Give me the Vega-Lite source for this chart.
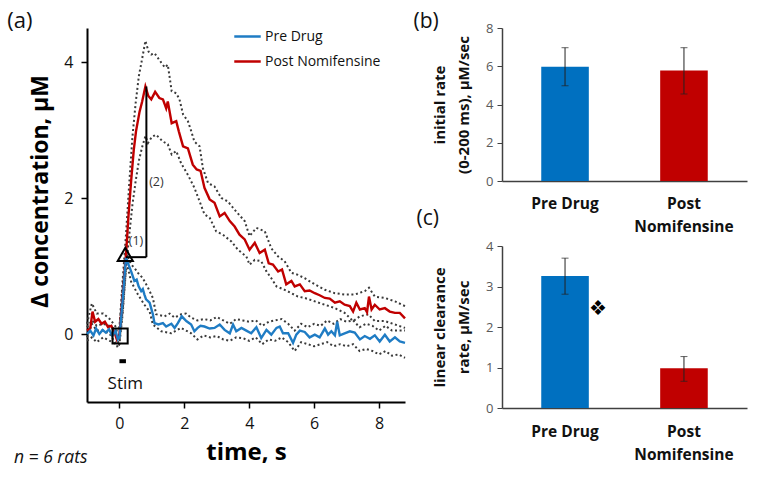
{
"$schema": "https://vega.github.io/schema/vega-lite/v6.json",
"background": "white",
"padding": {"left": 7, "top": 10, "right": 5, "bottom": 5},
"config": {"view": {"stroke": null}, "font": "Open Sans", "axis": {"grid": false}},
"bounds": "flush",
"spacing": 97,
"resolve": {"scale": {"color": "independent"}, "legend": {"color": "independent"}},
"datasets": {
"main": [
{"t":-1,"v":0.05,"s":"Post Nomifensine"},{"t":-0.9,"v":0.08,"s":"Post Nomifensine"},{"t":-0.83,"v":0.33,"s":"Post Nomifensine"},{"t":-0.75,"v":0.18,"s":"Post Nomifensine"},{"t":-0.65,"v":0.22,"s":"Post Nomifensine"},{"t":-0.55,"v":0.15,"s":"Post Nomifensine"},{"t":-0.45,"v":0.18,"s":"Post Nomifensine"},{"t":-0.35,"v":0.1,"s":"Post Nomifensine"},{"t":-0.25,"v":0.12,"s":"Post Nomifensine"},{"t":-0.15,"v":0.02,"s":"Post Nomifensine"},{"t":-0.08,"v":-0.08,"s":"Post Nomifensine"},{"t":0,"v":0,"s":"Post Nomifensine"},{"t":0.1,"v":0.55,"s":"Post Nomifensine"},{"t":0.2,"v":1.15,"s":"Post Nomifensine"},{"t":0.28,"v":1.75,"s":"Post Nomifensine"},{"t":0.36,"v":2.25,"s":"Post Nomifensine"},{"t":0.44,"v":2.7,"s":"Post Nomifensine"},{"t":0.51,"v":2.98,"s":"Post Nomifensine"},{"t":0.62,"v":3.27,"s":"Post Nomifensine"},{"t":0.7,"v":3.42,"s":"Post Nomifensine"},{"t":0.8,"v":3.64,"s":"Post Nomifensine"},{"t":0.89,"v":3.5,"s":"Post Nomifensine"},{"t":0.98,"v":3.45,"s":"Post Nomifensine"},{"t":1.1,"v":3.56,"s":"Post Nomifensine"},{"t":1.23,"v":3.47,"s":"Post Nomifensine"},{"t":1.34,"v":3.45,"s":"Post Nomifensine"},{"t":1.44,"v":3.32,"s":"Post Nomifensine"},{"t":1.49,"v":3.42,"s":"Post Nomifensine"},{"t":1.61,"v":3.1,"s":"Post Nomifensine"},{"t":1.75,"v":3.13,"s":"Post Nomifensine"},{"t":1.83,"v":2.98,"s":"Post Nomifensine"},{"t":1.96,"v":2.76,"s":"Post Nomifensine"},{"t":2.11,"v":2.73,"s":"Post Nomifensine"},{"t":2.26,"v":2.49,"s":"Post Nomifensine"},{"t":2.38,"v":2.42,"s":"Post Nomifensine"},{"t":2.5,"v":2.4,"s":"Post Nomifensine"},{"t":2.62,"v":2.15,"s":"Post Nomifensine"},{"t":2.78,"v":1.98,"s":"Post Nomifensine"},{"t":2.93,"v":1.93,"s":"Post Nomifensine"},{"t":3.09,"v":1.73,"s":"Post Nomifensine"},{"t":3.24,"v":1.78,"s":"Post Nomifensine"},{"t":3.4,"v":1.66,"s":"Post Nomifensine"},{"t":3.55,"v":1.58,"s":"Post Nomifensine"},{"t":3.7,"v":1.46,"s":"Post Nomifensine"},{"t":3.86,"v":1.39,"s":"Post Nomifensine"},{"t":4.01,"v":1.24,"s":"Post Nomifensine"},{"t":4.17,"v":1.34,"s":"Post Nomifensine"},{"t":4.32,"v":1.19,"s":"Post Nomifensine"},{"t":4.48,"v":1.24,"s":"Post Nomifensine"},{"t":4.6,"v":1.04,"s":"Post Nomifensine"},{"t":4.73,"v":1.02,"s":"Post Nomifensine"},{"t":4.89,"v":0.92,"s":"Post Nomifensine"},{"t":5.01,"v":0.95,"s":"Post Nomifensine"},{"t":5.14,"v":0.73,"s":"Post Nomifensine"},{"t":5.3,"v":0.78,"s":"Post Nomifensine"},{"t":5.4,"v":0.7,"s":"Post Nomifensine"},{"t":5.56,"v":0.73,"s":"Post Nomifensine"},{"t":5.71,"v":0.63,"s":"Post Nomifensine"},{"t":5.86,"v":0.64,"s":"Post Nomifensine"},{"t":6.02,"v":0.6,"s":"Post Nomifensine"},{"t":6.17,"v":0.57,"s":"Post Nomifensine"},{"t":6.33,"v":0.53,"s":"Post Nomifensine"},{"t":6.48,"v":0.52,"s":"Post Nomifensine"},{"t":6.64,"v":0.46,"s":"Post Nomifensine"},{"t":6.79,"v":0.48,"s":"Post Nomifensine"},{"t":6.94,"v":0.43,"s":"Post Nomifensine"},{"t":7.1,"v":0.41,"s":"Post Nomifensine"},{"t":7.2,"v":0.33,"s":"Post Nomifensine"},{"t":7.3,"v":0.46,"s":"Post Nomifensine"},{"t":7.41,"v":0.36,"s":"Post Nomifensine"},{"t":7.56,"v":0.38,"s":"Post Nomifensine"},{"t":7.63,"v":0.32,"s":"Post Nomifensine"},{"t":7.69,"v":0.55,"s":"Post Nomifensine"},{"t":7.77,"v":0.36,"s":"Post Nomifensine"},{"t":7.87,"v":0.43,"s":"Post Nomifensine"},{"t":8.02,"v":0.36,"s":"Post Nomifensine"},{"t":8.18,"v":0.38,"s":"Post Nomifensine"},{"t":8.33,"v":0.33,"s":"Post Nomifensine"},{"t":8.49,"v":0.31,"s":"Post Nomifensine"},{"t":8.64,"v":0.31,"s":"Post Nomifensine"},{"t":8.8,"v":0.23,"s":"Post Nomifensine"},
{"t":-1,"v":0,"s":"Pre Drug"},{"t":-0.9,"v":0.05,"s":"Pre Drug"},{"t":-0.8,"v":-0.02,"s":"Pre Drug"},{"t":-0.72,"v":0.08,"s":"Pre Drug"},{"t":-0.62,"v":0,"s":"Pre Drug"},{"t":-0.52,"v":0.06,"s":"Pre Drug"},{"t":-0.42,"v":0.02,"s":"Pre Drug"},{"t":-0.32,"v":0.07,"s":"Pre Drug"},{"t":-0.22,"v":-0.03,"s":"Pre Drug"},{"t":-0.12,"v":0.05,"s":"Pre Drug"},{"t":-0.05,"v":-0.08,"s":"Pre Drug"},{"t":0,"v":-0.05,"s":"Pre Drug"},{"t":0.1,"v":0.5,"s":"Pre Drug"},{"t":0.2,"v":1.12,"s":"Pre Drug"},{"t":0.28,"v":1.02,"s":"Pre Drug"},{"t":0.36,"v":0.92,"s":"Pre Drug"},{"t":0.46,"v":0.78,"s":"Pre Drug"},{"t":0.53,"v":0.8,"s":"Pre Drug"},{"t":0.59,"v":0.7,"s":"Pre Drug"},{"t":0.67,"v":0.63,"s":"Pre Drug"},{"t":0.72,"v":0.66,"s":"Pre Drug"},{"t":0.77,"v":0.58,"s":"Pre Drug"},{"t":0.82,"v":0.51,"s":"Pre Drug"},{"t":0.93,"v":0.46,"s":"Pre Drug"},{"t":1.03,"v":0.29,"s":"Pre Drug"},{"t":1.08,"v":0.16,"s":"Pre Drug"},{"t":1.2,"v":0.14,"s":"Pre Drug"},{"t":1.34,"v":0.16,"s":"Pre Drug"},{"t":1.44,"v":0.11,"s":"Pre Drug"},{"t":1.6,"v":0.15,"s":"Pre Drug"},{"t":1.7,"v":0.09,"s":"Pre Drug"},{"t":1.8,"v":0.16,"s":"Pre Drug"},{"t":1.92,"v":0.26,"s":"Pre Drug"},{"t":2.06,"v":0.19,"s":"Pre Drug"},{"t":2.21,"v":0.14,"s":"Pre Drug"},{"t":2.31,"v":0.04,"s":"Pre Drug"},{"t":2.41,"v":0.09,"s":"Pre Drug"},{"t":2.5,"v":0.12,"s":"Pre Drug"},{"t":2.62,"v":0.11,"s":"Pre Drug"},{"t":2.78,"v":0.08,"s":"Pre Drug"},{"t":2.93,"v":0.09,"s":"Pre Drug"},{"t":3.09,"v":0.14,"s":"Pre Drug"},{"t":3.24,"v":0.06,"s":"Pre Drug"},{"t":3.4,"v":0.01,"s":"Pre Drug"},{"t":3.5,"v":0.14,"s":"Pre Drug"},{"t":3.6,"v":0.04,"s":"Pre Drug"},{"t":3.76,"v":0.09,"s":"Pre Drug"},{"t":3.91,"v":0.05,"s":"Pre Drug"},{"t":4.06,"v":0.01,"s":"Pre Drug"},{"t":4.22,"v":0.1,"s":"Pre Drug"},{"t":4.37,"v":-0.06,"s":"Pre Drug"},{"t":4.53,"v":0.06,"s":"Pre Drug"},{"t":4.68,"v":-0.01,"s":"Pre Drug"},{"t":4.84,"v":0.09,"s":"Pre Drug"},{"t":4.94,"v":0.11,"s":"Pre Drug"},{"t":5.04,"v":0.01,"s":"Pre Drug"},{"t":5.2,"v":0.01,"s":"Pre Drug"},{"t":5.35,"v":-0.13,"s":"Pre Drug"},{"t":5.45,"v":-0.01,"s":"Pre Drug"},{"t":5.56,"v":0.05,"s":"Pre Drug"},{"t":5.71,"v":0.03,"s":"Pre Drug"},{"t":5.86,"v":-0.05,"s":"Pre Drug"},{"t":6.02,"v":-0.01,"s":"Pre Drug"},{"t":6.17,"v":-0.05,"s":"Pre Drug"},{"t":6.33,"v":0.08,"s":"Pre Drug"},{"t":6.43,"v":-0.01,"s":"Pre Drug"},{"t":6.53,"v":0.04,"s":"Pre Drug"},{"t":6.64,"v":-0.02,"s":"Pre Drug"},{"t":6.71,"v":0.18,"s":"Pre Drug"},{"t":6.79,"v":-0.02,"s":"Pre Drug"},{"t":6.94,"v":0.01,"s":"Pre Drug"},{"t":7.1,"v":0.04,"s":"Pre Drug"},{"t":7.25,"v":0.02,"s":"Pre Drug"},{"t":7.41,"v":-0.08,"s":"Pre Drug"},{"t":7.56,"v":-0.03,"s":"Pre Drug"},{"t":7.72,"v":-0.07,"s":"Pre Drug"},{"t":7.87,"v":-0.02,"s":"Pre Drug"},{"t":8.02,"v":-0.11,"s":"Pre Drug"},{"t":8.18,"v":-0.01,"s":"Pre Drug"},{"t":8.33,"v":-0.11,"s":"Pre Drug"},{"t":8.49,"v":-0.05,"s":"Pre Drug"},{"t":8.64,"v":-0.11,"s":"Pre Drug"},{"t":8.8,"v":-0.13,"s":"Pre Drug"}
],
"bands": [
{"t":-1,"v":0.15,"b":"post_hi"},{"t":-0.85,"v":0.45,"b":"post_hi"},{"t":-0.7,"v":0.3,"b":"post_hi"},{"t":-0.5,"v":0.3,"b":"post_hi"},{"t":-0.3,"v":0.22,"b":"post_hi"},{"t":-0.1,"v":0.1,"b":"post_hi"},{"t":0,"v":0.1,"b":"post_hi"},{"t":0.1,"v":0.8,"b":"post_hi"},{"t":0.2,"v":1.45,"b":"post_hi"},{"t":0.3,"v":2.2,"b":"post_hi"},{"t":0.4,"v":2.9,"b":"post_hi"},{"t":0.5,"v":3.4,"b":"post_hi"},{"t":0.6,"v":3.8,"b":"post_hi"},{"t":0.7,"v":4.05,"b":"post_hi"},{"t":0.8,"v":4.31,"b":"post_hi"},{"t":0.9,"v":4.15,"b":"post_hi"},{"t":0.98,"v":4.11,"b":"post_hi"},{"t":1.08,"v":4.13,"b":"post_hi"},{"t":1.2,"v":4.05,"b":"post_hi"},{"t":1.29,"v":3.99,"b":"post_hi"},{"t":1.4,"v":3.92,"b":"post_hi"},{"t":1.49,"v":3.96,"b":"post_hi"},{"t":1.61,"v":3.57,"b":"post_hi"},{"t":1.75,"v":3.54,"b":"post_hi"},{"t":1.85,"v":3.45,"b":"post_hi"},{"t":1.96,"v":3.23,"b":"post_hi"},{"t":2.11,"v":3.13,"b":"post_hi"},{"t":2.2,"v":3.0,"b":"post_hi"},{"t":2.31,"v":2.83,"b":"post_hi"},{"t":2.47,"v":2.76,"b":"post_hi"},{"t":2.57,"v":2.44,"b":"post_hi"},{"t":2.73,"v":2.22,"b":"post_hi"},{"t":2.93,"v":2.17,"b":"post_hi"},{"t":3.14,"v":2.0,"b":"post_hi"},{"t":3.34,"v":1.95,"b":"post_hi"},{"t":3.6,"v":1.8,"b":"post_hi"},{"t":3.86,"v":1.66,"b":"post_hi"},{"t":4.01,"v":1.44,"b":"post_hi"},{"t":4.22,"v":1.56,"b":"post_hi"},{"t":4.48,"v":1.51,"b":"post_hi"},{"t":4.68,"v":1.26,"b":"post_hi"},{"t":4.89,"v":1.14,"b":"post_hi"},{"t":5.09,"v":1.07,"b":"post_hi"},{"t":5.3,"v":0.9,"b":"post_hi"},{"t":5.5,"v":0.87,"b":"post_hi"},{"t":5.71,"v":0.82,"b":"post_hi"},{"t":6.02,"v":0.73,"b":"post_hi"},{"t":6.33,"v":0.65,"b":"post_hi"},{"t":6.64,"v":0.6,"b":"post_hi"},{"t":6.94,"v":0.58,"b":"post_hi"},{"t":7.25,"v":0.58,"b":"post_hi"},{"t":7.56,"v":0.63,"b":"post_hi"},{"t":7.69,"v":0.68,"b":"post_hi"},{"t":7.87,"v":0.55,"b":"post_hi"},{"t":8.18,"v":0.53,"b":"post_hi"},{"t":8.49,"v":0.48,"b":"post_hi"},{"t":8.8,"v":0.41,"b":"post_hi"},
{"t":-1,"v":-0.05,"b":"post_lo"},{"t":-0.85,"v":0.15,"b":"post_lo"},{"t":-0.7,"v":0.05,"b":"post_lo"},{"t":-0.5,"v":0.05,"b":"post_lo"},{"t":-0.3,"v":0,"b":"post_lo"},{"t":-0.1,"v":-0.15,"b":"post_lo"},{"t":0,"v":-0.1,"b":"post_lo"},{"t":0.1,"v":0.35,"b":"post_lo"},{"t":0.2,"v":0.95,"b":"post_lo"},{"t":0.3,"v":1.45,"b":"post_lo"},{"t":0.4,"v":1.9,"b":"post_lo"},{"t":0.5,"v":2.25,"b":"post_lo"},{"t":0.6,"v":2.55,"b":"post_lo"},{"t":0.7,"v":2.75,"b":"post_lo"},{"t":0.8,"v":2.91,"b":"post_lo"},{"t":0.88,"v":2.81,"b":"post_lo"},{"t":1,"v":2.9,"b":"post_lo"},{"t":1.13,"v":2.93,"b":"post_lo"},{"t":1.34,"v":2.83,"b":"post_lo"},{"t":1.49,"v":2.79,"b":"post_lo"},{"t":1.61,"v":2.64,"b":"post_lo"},{"t":1.75,"v":2.69,"b":"post_lo"},{"t":1.9,"v":2.51,"b":"post_lo"},{"t":2.11,"v":2.34,"b":"post_lo"},{"t":2.31,"v":2.15,"b":"post_lo"},{"t":2.47,"v":1.95,"b":"post_lo"},{"t":2.62,"v":1.76,"b":"post_lo"},{"t":2.78,"v":1.71,"b":"post_lo"},{"t":2.98,"v":1.51,"b":"post_lo"},{"t":3.19,"v":1.46,"b":"post_lo"},{"t":3.45,"v":1.36,"b":"post_lo"},{"t":3.65,"v":1.24,"b":"post_lo"},{"t":3.91,"v":1.14,"b":"post_lo"},{"t":4.01,"v":1.02,"b":"post_lo"},{"t":4.17,"v":1.09,"b":"post_lo"},{"t":4.37,"v":1.07,"b":"post_lo"},{"t":4.53,"v":0.92,"b":"post_lo"},{"t":4.68,"v":0.82,"b":"post_lo"},{"t":4.84,"v":0.7,"b":"post_lo"},{"t":5.09,"v":0.65,"b":"post_lo"},{"t":5.3,"v":0.6,"b":"post_lo"},{"t":5.5,"v":0.55,"b":"post_lo"},{"t":5.71,"v":0.53,"b":"post_lo"},{"t":6.02,"v":0.48,"b":"post_lo"},{"t":6.33,"v":0.43,"b":"post_lo"},{"t":6.64,"v":0.38,"b":"post_lo"},{"t":6.94,"v":0.31,"b":"post_lo"},{"t":7.2,"v":0.19,"b":"post_lo"},{"t":7.41,"v":0.26,"b":"post_lo"},{"t":7.67,"v":0.29,"b":"post_lo"},{"t":7.87,"v":0.19,"b":"post_lo"},{"t":8.18,"v":0.19,"b":"post_lo"},{"t":8.49,"v":0.14,"b":"post_lo"},{"t":8.8,"v":0.09,"b":"post_lo"},
{"t":-1,"v":0.1,"b":"pre_hi"},{"t":-0.85,"v":0.2,"b":"pre_hi"},{"t":-0.7,"v":0.12,"b":"pre_hi"},{"t":-0.5,"v":0.15,"b":"pre_hi"},{"t":-0.3,"v":0.12,"b":"pre_hi"},{"t":-0.1,"v":0.05,"b":"pre_hi"},{"t":0,"v":0.05,"b":"pre_hi"},{"t":0.1,"v":0.7,"b":"pre_hi"},{"t":0.2,"v":1.2,"b":"pre_hi"},{"t":0.36,"v":1.02,"b":"pre_hi"},{"t":0.45,"v":0.98,"b":"pre_hi"},{"t":0.57,"v":0.9,"b":"pre_hi"},{"t":0.72,"v":0.82,"b":"pre_hi"},{"t":0.88,"v":0.68,"b":"pre_hi"},{"t":1.03,"v":0.53,"b":"pre_hi"},{"t":1.13,"v":0.29,"b":"pre_hi"},{"t":1.39,"v":0.26,"b":"pre_hi"},{"t":1.55,"v":0.3,"b":"pre_hi"},{"t":1.7,"v":0.24,"b":"pre_hi"},{"t":1.9,"v":0.29,"b":"pre_hi"},{"t":2.05,"v":0.3,"b":"pre_hi"},{"t":2.21,"v":0.24,"b":"pre_hi"},{"t":2.4,"v":0.2,"b":"pre_hi"},{"t":2.6,"v":0.22,"b":"pre_hi"},{"t":2.8,"v":0.2,"b":"pre_hi"},{"t":3,"v":0.25,"b":"pre_hi"},{"t":3.2,"v":0.2,"b":"pre_hi"},{"t":3.4,"v":0.15,"b":"pre_hi"},{"t":3.6,"v":0.22,"b":"pre_hi"},{"t":3.8,"v":0.2,"b":"pre_hi"},{"t":4,"v":0.18,"b":"pre_hi"},{"t":4.2,"v":0.2,"b":"pre_hi"},{"t":4.4,"v":0.12,"b":"pre_hi"},{"t":4.6,"v":0.18,"b":"pre_hi"},{"t":4.8,"v":0.2,"b":"pre_hi"},{"t":5,"v":0.22,"b":"pre_hi"},{"t":5.2,"v":0.15,"b":"pre_hi"},{"t":5.4,"v":0.05,"b":"pre_hi"},{"t":5.6,"v":0.15,"b":"pre_hi"},{"t":5.8,"v":0.1,"b":"pre_hi"},{"t":6,"v":0.15,"b":"pre_hi"},{"t":6.2,"v":0.12,"b":"pre_hi"},{"t":6.4,"v":0.2,"b":"pre_hi"},{"t":6.6,"v":0.15,"b":"pre_hi"},{"t":6.8,"v":0.22,"b":"pre_hi"},{"t":7,"v":0.18,"b":"pre_hi"},{"t":7.2,"v":0.2,"b":"pre_hi"},{"t":7.4,"v":0.1,"b":"pre_hi"},{"t":7.6,"v":0.15,"b":"pre_hi"},{"t":7.8,"v":0.12,"b":"pre_hi"},{"t":8,"v":0.05,"b":"pre_hi"},{"t":8.2,"v":0.12,"b":"pre_hi"},{"t":8.4,"v":0.05,"b":"pre_hi"},{"t":8.6,"v":0.05,"b":"pre_hi"},{"t":8.8,"v":0.05,"b":"pre_hi"},
{"t":-1,"v":-0.1,"b":"pre_lo"},{"t":-0.85,"v":-0.05,"b":"pre_lo"},{"t":-0.7,"v":-0.12,"b":"pre_lo"},{"t":-0.5,"v":-0.05,"b":"pre_lo"},{"t":-0.3,"v":-0.1,"b":"pre_lo"},{"t":-0.1,"v":-0.15,"b":"pre_lo"},{"t":-0.05,"v":-0.2,"b":"pre_lo"},{"t":0,"v":-0.15,"b":"pre_lo"},{"t":0.1,"v":0.3,"b":"pre_lo"},{"t":0.2,"v":0.95,"b":"pre_lo"},{"t":0.26,"v":0.97,"b":"pre_lo"},{"t":0.36,"v":0.77,"b":"pre_lo"},{"t":0.57,"v":0.58,"b":"pre_lo"},{"t":0.77,"v":0.43,"b":"pre_lo"},{"t":0.93,"v":0.33,"b":"pre_lo"},{"t":1.03,"v":0.14,"b":"pre_lo"},{"t":1.29,"v":0.04,"b":"pre_lo"},{"t":1.6,"v":0.01,"b":"pre_lo"},{"t":1.9,"v":0.09,"b":"pre_lo"},{"t":2.21,"v":0.01,"b":"pre_lo"},{"t":2.4,"v":-0.08,"b":"pre_lo"},{"t":2.6,"v":-0.02,"b":"pre_lo"},{"t":2.8,"v":-0.05,"b":"pre_lo"},{"t":3,"v":-0.03,"b":"pre_lo"},{"t":3.2,"v":-0.08,"b":"pre_lo"},{"t":3.4,"v":-0.1,"b":"pre_lo"},{"t":3.6,"v":-0.05,"b":"pre_lo"},{"t":3.8,"v":-0.06,"b":"pre_lo"},{"t":4,"v":-0.1,"b":"pre_lo"},{"t":4.2,"v":-0.05,"b":"pre_lo"},{"t":4.4,"v":-0.15,"b":"pre_lo"},{"t":4.6,"v":-0.08,"b":"pre_lo"},{"t":4.8,"v":-0.1,"b":"pre_lo"},{"t":5,"v":-0.05,"b":"pre_lo"},{"t":5.2,"v":-0.12,"b":"pre_lo"},{"t":5.4,"v":-0.25,"b":"pre_lo"},{"t":5.6,"v":-0.12,"b":"pre_lo"},{"t":5.8,"v":-0.15,"b":"pre_lo"},{"t":6,"v":-0.18,"b":"pre_lo"},{"t":6.2,"v":-0.15,"b":"pre_lo"},{"t":6.4,"v":-0.12,"b":"pre_lo"},{"t":6.6,"v":-0.18,"b":"pre_lo"},{"t":6.8,"v":-0.15,"b":"pre_lo"},{"t":7,"v":-0.18,"b":"pre_lo"},{"t":7.2,"v":-0.15,"b":"pre_lo"},{"t":7.4,"v":-0.25,"b":"pre_lo"},{"t":7.6,"v":-0.22,"b":"pre_lo"},{"t":7.8,"v":-0.25,"b":"pre_lo"},{"t":8,"v":-0.3,"b":"pre_lo"},{"t":8.2,"v":-0.25,"b":"pre_lo"},{"t":8.4,"v":-0.32,"b":"pre_lo"},{"t":8.6,"v":-0.3,"b":"pre_lo"},{"t":8.8,"v":-0.35,"b":"pre_lo"}
],
"brackets": [{"t":0.83,"v":1.13,"t2":0.83,"v2":3.64},{"t":0.2,"v":1.13,"t2":0.83,"v2":1.13}],
"stimbar": [{"t":0,"v":-0.4,"t2":0.2,"v2":-0.4}],
"markers": [{"t":0.18,"v":1.17,"shape":"triangle-up"},{"t":0.02,"v":-0.03,"shape":"square"}],
"steplabels": [{"t":0.51,"v":1.37,"txt":"(1)"},{"t":1.14,"v":2.23,"txt":"(2)"}],
"stimlabel": [{"t":0.18,"v":-0.74,"txt":"Stim"}],
"panela": [{"t":-3.46,"v":4.6,"txt":"(a)"}],
"nlabel": [{"t":-3.25,"v":-1.83,"txt":"n = 6 rats"}],
"bars_b": [{"g":"Pre Drug","m":5.98,"lo":4.98,"hi":6.97},{"g":"Post Nomifensine","m":5.78,"lo":4.55,"hi":6.97}],
"bars_c": [{"g":"Pre Drug","m":3.26,"lo":2.81,"hi":3.7},{"g":"Post Nomifensine","m":0.98,"lo":0.66,"hi":1.27}],
"sig_c": [{"g":"Pre Drug","m":2.44,"txt":"❖"}]
},
"hconcat": [
{
"width": 318, "height": 374,
"encoding": {
"x": {"field": "t", "type": "quantitative", "scale": {"domain": [-1, 8.8], "nice": false, "zero": false},
 "axis": {"title": "time, s", "values": [0, 2, 4, 6, 8], "domainColor": "#000", "domainWidth": 2, "tickColor": "#000", "tickWidth": 1.5, "tickSize": 6, "labelFontSize": 16, "labelColor": "#111", "labelPadding": 7, "titleFontSize": 24, "titleFontWeight": "bold", "titleColor": "#000", "titlePadding": 9}},
"y": {"field": "v", "type": "quantitative", "scale": {"domain": [-1, 4.5], "nice": false, "zero": false},
 "axis": {"title": "Δ concentration, μM", "values": [0, 2, 4], "domainColor": "#000", "domainWidth": 2, "tickColor": "#000", "tickWidth": 1.5, "tickSize": 6, "labelFontSize": 16, "labelColor": "#111", "labelPadding": 8, "titleFontSize": 23, "titleFontWeight": "bold", "titleColor": "#000", "titlePadding": 11, "titleY": 163}}
},
"layer": [
{"data": {"name": "bands"}, "mark": {"type": "line", "color": "#3a3a3a", "strokeWidth": 2, "strokeDash": [2, 2.6]}, "encoding": {"detail": {"field": "b", "type": "nominal"}}},
{"data": {"name": "main"}, "mark": {"type": "line", "strokeWidth": 2.4}, "encoding": {"color": {"field": "s", "type": "nominal", "scale": {"domain": ["Pre Drug", "Post Nomifensine"], "range": ["#1f7cc4", "#c00000"]}, "legend": {"title": null, "orient": "none", "legendX": 146, "legendY": -6, "symbolType": "stroke", "symbolSize": 700, "symbolStrokeWidth": 2.5, "labelFontSize": 14, "labelColor": "#111", "rowPadding": 3, "labelOffset": 3}}}},
{"data": {"name": "brackets"}, "mark": {"type": "rule", "color": "#000", "strokeWidth": 2}, "encoding": {"x2": {"field": "t2"}, "y2": {"field": "v2"}}},
{"data": {"name": "stimbar"}, "mark": {"type": "rule", "color": "#000", "strokeWidth": 4}, "encoding": {"x2": {"field": "t2"}, "y2": {"field": "v2"}}},
{"data": {"name": "markers"}, "mark": {"type": "point", "filled": false, "color": "#000", "strokeWidth": 2, "size": 230, "opacity": 1}, "encoding": {"shape": {"field": "shape", "type": "nominal", "scale": null}}},
{"data": {"name": "steplabels"}, "mark": {"type": "text", "fontSize": 12.5, "color": "#333", "align": "center", "baseline": "middle"}, "encoding": {"text": {"field": "txt"}}},
{"data": {"name": "stimlabel"}, "mark": {"type": "text", "fontSize": 17, "color": "#111", "align": "center", "baseline": "middle"}, "encoding": {"text": {"field": "txt"}}},
{"data": {"name": "panela"}, "mark": {"type": "text", "fontSize": 22, "color": "#111", "align": "left", "baseline": "middle"}, "encoding": {"text": {"field": "txt"}}},
{"data": {"name": "nlabel"}, "mark": {"type": "text", "fontSize": 17.5, "fontStyle": "italic", "color": "#111", "align": "left", "baseline": "middle"}, "encoding": {"text": {"field": "txt"}}}
]
},
{
"vconcat": [
{
"width": 245, "height": 153,
"title": {"text": "(b)", "anchor": "start", "frame": "bounds", "fontSize": 21, "fontWeight": "normal", "color": "#111", "dx": -19, "dy": 10, "offset": 0},
"data": {"name": "bars_b"},
"layer": [
{"mark": {"type": "bar"}, "encoding": {
 "x": {"field": "g", "type": "nominal", "sort": ["Pre Drug", "Post Nomifensine"], "scale": {"paddingInner": 0.6, "paddingOuter": 0.33},
  "axis": {"title": null, "labelAngle": 0, "ticks": false, "domainColor": "#404040", "domainWidth": 1.5, "labelFontSize": 15.5, "labelFontWeight": "bold", "labelColor": "#111", "labelPadding": 15, "labelLineHeight": 23, "labelExpr": "datum.value == 'Post Nomifensine' ? ['Post', 'Nomifensine'] : datum.value"}},
 "y": {"field": "m", "type": "quantitative", "scale": {"domain": [0, 8], "nice": false},
  "axis": {"title": ["initial rate", "(0-200 ms), μM/sec"], "values": [0, 2, 4, 6, 8], "labelOverlap": false, "domainColor": "#404040", "domainWidth": 1.5, "tickColor": "#404040", "tickSize": 5, "labelFontSize": 13, "labelColor": "#595959", "labelPadding": 4, "titleFontSize": 15, "titleFontWeight": "bold", "titleColor": "#111", "titlePadding": 14, "titleLineHeight": 24}},
 "color": {"field": "g", "type": "nominal", "scale": {"domain": ["Pre Drug", "Post Nomifensine"], "range": ["#0070c0", "#c00000"]}, "legend": null}}},
{"mark": {"type": "errorbar", "ticks": {"size": 7}, "color": "#222", "thickness": 1}, "encoding": {
 "x": {"field": "g", "type": "nominal", "sort": ["Pre Drug", "Post Nomifensine"]},
 "y": {"field": "lo", "type": "quantitative", "axis": {"title": ["initial rate", "(0-200 ms), μM/sec"], "values": [0, 2, 4, 6, 8], "labelOverlap": false, "domainColor": "#404040", "domainWidth": 1.5, "tickColor": "#404040", "tickSize": 5, "labelFontSize": 13, "labelColor": "#595959", "labelPadding": 4, "titleFontSize": 15, "titleFontWeight": "bold", "titleColor": "#111", "titlePadding": 14, "titleLineHeight": 24}},
 "y2": {"field": "hi"}}}
]
},
{
"width": 245, "height": 162,
"title": {"text": "(c)", "anchor": "start", "frame": "bounds", "fontSize": 21, "fontWeight": "normal", "color": "#111", "dx": -16, "dy": -11, "offset": 0},
"layer": [
{"data": {"name": "bars_c"}, "mark": {"type": "bar"}, "encoding": {
 "x": {"field": "g", "type": "nominal", "sort": ["Pre Drug", "Post Nomifensine"], "scale": {"paddingInner": 0.6, "paddingOuter": 0.33},
  "axis": {"title": null, "labelAngle": 0, "ticks": false, "domainColor": "#404040", "domainWidth": 1.5, "labelFontSize": 15.5, "labelFontWeight": "bold", "labelColor": "#111", "labelPadding": 16, "labelLineHeight": 23, "labelExpr": "datum.value == 'Post Nomifensine' ? ['Post', 'Nomifensine'] : datum.value"}},
 "y": {"field": "m", "type": "quantitative", "scale": {"domain": [0, 4], "nice": false},
  "axis": {"title": ["linear clearance", "rate, μM/sec"], "values": [0, 1, 2, 3, 4], "labelOverlap": false, "domainColor": "#404040", "domainWidth": 1.5, "tickColor": "#404040", "tickSize": 5, "labelFontSize": 13, "labelColor": "#595959", "labelPadding": 4, "titleFontSize": 15, "titleFontWeight": "bold", "titleColor": "#111", "titlePadding": 14, "titleLineHeight": 24}},
 "color": {"field": "g", "type": "nominal", "scale": {"domain": ["Pre Drug", "Post Nomifensine"], "range": ["#0070c0", "#c00000"]}, "legend": null}}},
{"data": {"name": "bars_c"}, "mark": {"type": "errorbar", "ticks": {"size": 7}, "color": "#222", "thickness": 1}, "encoding": {
 "x": {"field": "g", "type": "nominal", "sort": ["Pre Drug", "Post Nomifensine"]},
 "y": {"field": "lo", "type": "quantitative", "axis": {"title": ["linear clearance", "rate, μM/sec"], "values": [0, 1, 2, 3, 4], "labelOverlap": false, "domainColor": "#404040", "domainWidth": 1.5, "tickColor": "#404040", "tickSize": 5, "labelFontSize": 13, "labelColor": "#595959", "labelPadding": 4, "titleFontSize": 15, "titleFontWeight": "bold", "titleColor": "#111", "titlePadding": 14, "titleLineHeight": 24}},
 "y2": {"field": "hi"}}},
{"data": {"name": "sig_c"}, "mark": {"type": "text", "fontSize": 20, "color": "#000", "align": "center", "baseline": "middle"}, "encoding": {
 "x": {"field": "g", "type": "nominal", "sort": ["Pre Drug", "Post Nomifensine"], "bandPosition": 1.2},
 "y": {"field": "m", "type": "quantitative", "axis": {"title": ["linear clearance", "rate, μM/sec"], "values": [0, 1, 2, 3, 4], "labelOverlap": false, "domainColor": "#404040", "domainWidth": 1.5, "tickColor": "#404040", "tickSize": 5, "labelFontSize": 13, "labelColor": "#595959", "labelPadding": 4, "titleFontSize": 15, "titleFontWeight": "bold", "titleColor": "#111", "titlePadding": 14, "titleLineHeight": 24}},
 "text": {"field": "txt"}}}
]
}
],
"spacing": 65,
"bounds": "flush"
}
]
}
